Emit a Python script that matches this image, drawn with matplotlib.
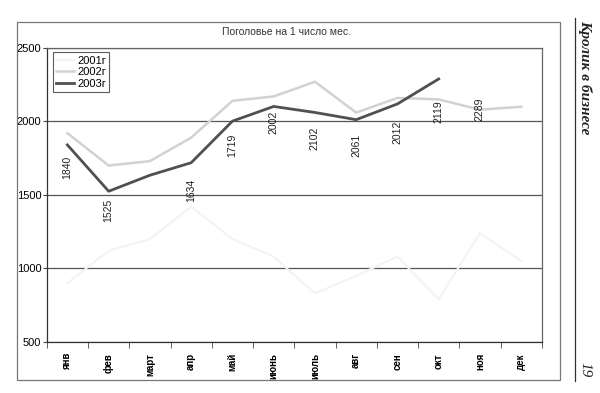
import matplotlib.pyplot as plt
from matplotlib.patches import Rectangle
from matplotlib.lines import Line2D

months = ['янв', 'фев', 'март', 'апр', 'май', 'июнь',
          'июль', 'авг', 'сен', 'окт', 'ноя', 'дек']
y2001 = [900, 1120, 1200, 1420, 1200, 1080, 830, 950, 1080, 790, 1240, 1050]
y2002 = [1920, 1700, 1730, 1890, 2140, 2170, 2270, 2060, 2160, 2150, 2080, 2100]
y2003 = [1840, 1525, 1634, 1719, 2002, 2102, 2061, 2012, 2119, 2289]

# where each data label sits (category index) and its shift from the value (px)
label_x = [0, 1, 3, 4, 5, 6, 7, 8, 9, 10]
label_dy = [-22, -19, -15, 17, -1, -32, -33, -13, -8, -30]

plt.rcParams['font.family'] = ['Liberation Sans', 'DejaVu Sans']

fig = plt.figure(figsize=(6, 3.93), dpi=100)
ax = fig.add_axes([0.078, 0.130, 0.825, 0.748])

x = list(range(len(months)))
ax.plot(x, y2001, color='#f3f3f3', lw=1.5, label='2001г', zorder=3)
ax.plot(x, y2002, color='#d2d2d2', lw=1.8, label='2002г', zorder=3)
ax.plot(x[:len(y2003)], y2003, color='#505050', lw=2.0, label='2003г', zorder=4)

for v, lx, dy in zip(y2003, label_x, label_dy):
    ax.annotate(str(v), xy=(lx, v), xytext=(0, dy), textcoords='offset pixels',
                rotation=90, ha='center', va='center', fontsize=7.5,
                color='#222222', zorder=5)

ax.set_xlim(-0.5, 11.5)
ax.set_ylim(500, 2500)
ax.set_yticks([500, 1000, 1500, 2000, 2500])
ax.tick_params(axis='y', labelsize=8, length=3, color='#444444', pad=1)
ax.set_xticks(x)
ax.set_xticklabels(months, rotation=90, fontsize=7, fontweight='bold')
ax.tick_params(axis='x', length=0, pad=8)
ax.set_xticks([i - 0.5 for i in range(len(months) + 1)], minor=True)
ax.tick_params(axis='x', which='minor', length=4, color='#444444')
ax.grid(axis='y', color='#555555', lw=0.9)
ax.set_axisbelow(True)
for s in ax.spines.values():
    s.set_color('#666666')
    s.set_linewidth(0.9)
ax.spines['left'].set_color('#333333')
ax.spines['bottom'].set_color('#333333')

leg = ax.legend(loc='upper left', bbox_to_anchor=(0.012, 0.985), fontsize=8,
                frameon=True, fancybox=False, handlelength=1.6,
                handletextpad=0.3, borderpad=0.3, labelspacing=0.15,
                borderaxespad=0)
leg.get_frame().set_edgecolor('#333333')
leg.get_frame().set_linewidth(0.8)

fig.text(0.477, 0.919, 'Поголовье на 1 число мес.', ha='center', va='center',
         fontsize=7.5, color='#333333')

# outer chart frame
fig.patches.append(Rectangle((0.028, 0.033), 0.905, 0.911, transform=fig.transFigure,
                             fill=False, edgecolor='#777777', lw=0.9))

# page margin: vertical rule, running title and page number
fig.lines.append(Line2D([0.958, 0.958], [0.03, 0.955], transform=fig.transFigure,
                        color='#333333', lw=0.9))
fig.text(0.975, 0.95, 'Кролик в бизнесе', rotation=-90, ha='center', va='top',
         fontsize=11, fontstyle='italic', fontweight='bold',
         family=['Liberation Serif', 'DejaVu Serif'], color='#222222')
fig.text(0.975, 0.06, '19', rotation=-90, ha='center', va='center',
         fontsize=11, fontstyle='italic',
         family=['Liberation Serif', 'DejaVu Serif'], color='#222222')

fig.savefig('out.png', dpi=100, facecolor='white')
